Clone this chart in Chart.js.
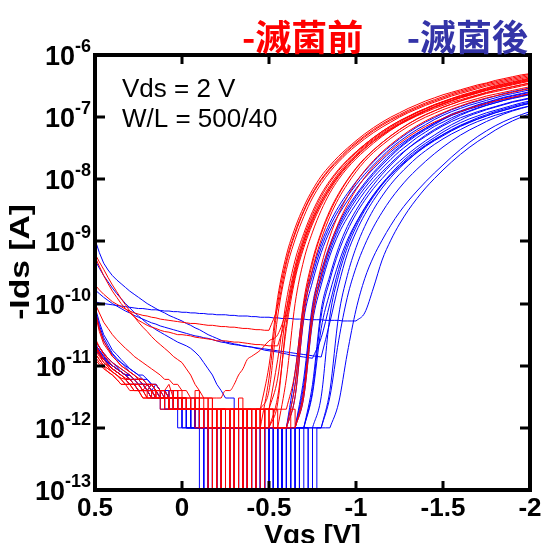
<!DOCTYPE html>
<html>
<head>
<meta charset="utf-8">
<script src="https://cdn.jsdelivr.net/npm/chart.js@4/dist/chart.umd.min.js"></script>
<style>
	html, body { margin: 0; padding: 0; background: #fff; }
	#wrap { width: 542px; height: 543px; position: relative; }
</style>
</head>
<body>
<div id="wrap"><canvas id="chart1"></canvas></div>
<script>
// Vgs sweep [V]: fine steps up to -1 V (off / subthreshold), coarse for the whole sweep
var vgsFine = [0.5,0.475,0.45,0.425,0.4,0.375,0.35,0.325,0.3,0.275,0.25,0.225,0.2,0.175,0.15,0.125,0.1,0.075,0.05,0.025,0,-0.025,-0.05,-0.075,-0.1,-0.125,-0.15,-0.175,-0.2,-0.225,-0.25,-0.275,-0.3,-0.325,-0.35,-0.375,-0.4,-0.425,-0.45,-0.475,-0.5,-0.525,-0.55,-0.575,-0.6,-0.625,-0.65,-0.675,-0.7,-0.725,-0.75,-0.775,-0.8,-0.825,-0.85,-0.875,-0.9,-0.925,-0.95,-0.975,-1];
var vgs = [0.5,0.45,0.4,0.35,0.3,0.25,0.2,0.15,0.1,0.05,0,-0.05,-0.1,-0.15,-0.2,-0.25,-0.3,-0.35,-0.4,-0.45,-0.5,-0.55,-0.6,-0.65,-0.7,-0.75,-0.8,-0.85,-0.9,-0.95,-1,-1.05,-1.1,-1.15,-1.2,-1.25,-1.3,-1.35,-1.4,-1.45,-1.5,-1.55,-1.6,-1.65,-1.7,-1.75,-1.8,-1.85,-1.9,-1.95,-2];

// log10(-Ids [A]) before sterilization (滅菌前)
// *Off: from Vgs = 0.5 on vgsFine, *On: up to Vgs = -2 on vgs (first point = last off point)
var r1Off = [-10.15,-10.45,-10.65,-10.75,-10.85,-10.92,-11,-11.05,-11.1,-11.15, -11.2,-11.22,-11.3,-11.3,-11.3,-11.4,-11.4,-11.3,-11.52,-11.4, -11.52,-11.7,-11.7,-11.52,-11.7,-11.7,-12,-11.7,-11.7,-14, -11.7,-12,-14,-11.7,-12,-11.7,-14,-12,-12];
var r1On = [-12,-11.2,-10,-9.3,-8.85,-8.5,-8.22,-8,-7.82,-7.67,-7.53,-7.41,-7.3,-7.2,-7.11,-7.03,-6.96,-6.89,-6.83,-6.77,-6.72,-6.67,-6.62,-6.58,-6.54,-6.5,-6.46,-6.43,-6.4,-6.37,-6.34,-6.31];
var r2Off = [-10.7,-10.8,-10.9,-10.98,-11.05,-11.1,-11.15,-11.22,-11.22,-11.3, -11.3,-11.4,-11.3,-11.4,-11.52,-11.4,-11.52,-11.52,-11.7,-11.52, -11.7,-11.52,-11.7,-11.7,-12,-11.7,-11.7,-12,-14,-11.7, -12,-11.7,-14,-14,-11.7,-12,-12,-11.7,-11.7];
var r2On = [-11.7,-11.4,-10.2,-9.45,-8.97,-8.6,-8.3,-8.07,-7.88,-7.72,-7.58,-7.46,-7.35,-7.25,-7.16,-7.08,-7,-6.93,-6.87,-6.81,-6.76,-6.71,-6.66,-6.62,-6.58,-6.54,-6.5,-6.47,-6.44,-6.41,-6.38,-6.35];
var r3Off = [-10.6,-10.7,-10.8,-10.88,-10.95,-11,-11.05,-11.1,-11.15,-11.22, -11.22,-11.3,-11.3,-11.3,-11.4,-11.4,-11.4,-11.52,-11.4,-11.52, -11.52,-11.7,-11.52,-11.7,-11.7,-11.7,-11.7,-12,-11.7,-11.7, -12,-14,-11.7,-11.7,-11.7,-12,-11.7,-11.7,-11.7];
var r3On = [-11.7,-11,-9.9,-9.22,-8.78,-8.44,-8.17,-7.95,-7.78,-7.63,-7.5,-7.38,-7.27,-7.17,-7.08,-7,-6.93,-6.86,-6.8,-6.74,-6.69,-6.64,-6.6,-6.56,-6.52,-6.48,-6.45,-6.41,-6.38,-6.35,-6.32,-6.3];
var r4Off = [-10.8,-10.9,-11,-11.05,-11.1,-11.15,-11.2,-11.22,-11.3,-11.3, -11.4,-11.4,-11.4,-11.52,-11.4,-11.52,-11.52,-11.7,-11.52,-11.7, -11.7,-11.7,-11.7,-11.7,-11.7,-12,-14,-11.7,-11.7,-12, -11.7,-12,-12,-14,-11.7,-14,-11.7,-12,-12,-11.7, -12];
var r4On = [-12,-11.5,-10.4,-9.6,-9.1,-8.72,-8.42,-8.17,-7.96,-7.79,-7.64,-7.51,-7.39,-7.29,-7.19,-7.11,-7.03,-6.96,-6.9,-6.84,-6.79,-6.74,-6.69,-6.65,-6.61,-6.57,-6.53,-6.5,-6.47,-6.44,-6.41];
var r5Off = [-10.1,-10.4,-10.6,-10.72,-10.85,-10.92,-11,-11.05,-11.1,-11.15, -11.22,-11.22,-11.3,-11.3,-11.4,-11.4,-11.4,-11.52,-11.4,-11.52, -11.52,-11.7,-11.7,-11.52,-11.7,-11.7,-11.7,-12,-11.7,-11.7, -14,-11.7,-12,-11.7,-11.7,-11.7,-12,-11.7,-12,-11.7, -11.7];
var r5On = [-11.7,-11.2,-10.1,-9.4,-8.93,-8.57,-8.28,-8.05,-7.86,-7.7,-7.56,-7.44,-7.33,-7.23,-7.14,-7.06,-6.99,-6.92,-6.86,-6.8,-6.75,-6.7,-6.66,-6.62,-6.58,-6.54,-6.5,-6.47,-6.44,-6.41,-6.38];
var r6Off = [-10.75,-10.85,-10.95,-11.02,-11.1,-11.15,-11.22,-11.3,-11.3,-11.3, -11.4,-11.4,-11.52,-11.4,-11.52,-11.52,-11.52,-11.7,-11.52,-11.7, -11.7,-11.7,-11.7,-12,-11.7,-11.7,-12,-11.7,-14,-11.7, -12,-11.7,-11.7,-12,-12,-14,-14,-12,-11.7,-12, -12];
var r6On = [-12,-11.6,-10.3,-9.55,-9.05,-8.68,-8.38,-8.14,-7.94,-7.77,-7.62,-7.5,-7.39,-7.29,-7.2,-7.12,-7.05,-6.98,-6.92,-6.86,-6.81,-6.76,-6.72,-6.68,-6.64,-6.6,-6.57,-6.54,-6.51,-6.48,-6.45];
var r7Off = [-10.65,-10.78,-10.9,-10.98,-11.05,-11.1,-11.15,-11.2,-11.22,-11.3, -11.3,-11.4,-11.4,-11.4,-11.4,-11.52,-11.52,-11.52,-11.52,-11.7, -11.52,-11.7,-11.7,-11.7,-11.7,-11.7,-11.52,-11.7,-12,-11.7, -11.7,-11.7,-14,-11.7,-12,-11.7,-14,-11.7,-11.7,-12, -11.7,-11.7,-12,-12,-12];
var r7On = [-12,-11.3,-10.05,-9.35,-8.88,-8.53,-8.25,-8.02,-7.83,-7.67,-7.53,-7.41,-7.3,-7.2,-7.11,-7.03,-6.96,-6.9,-6.84,-6.79,-6.74,-6.7,-6.66,-6.62,-6.59,-6.56,-6.53,-6.5,-6.47];
var r8Off = [-10.8,-10.9,-11,-11.05,-11.1,-11.15,-11.22,-11.3,-11.3,-11.4, -11.4,-11.4,-11.52,-11.4,-11.52,-11.52,-11.7,-11.52,-11.7,-11.52, -11.7,-11.7,-11.7,-11.7,-12,-11.7,-11.7,-11.7,-12,-11.7, -14,-11.7,-11.7,-12,-11.7,-12,-11.7,-11.7,-12,-11.7, -11.7,-12,-12,-12,-12,-11.7,-12];
var r8On = [-12,-11.4,-10.1,-9.4,-8.92,-8.56,-8.28,-8.05,-7.86,-7.7,-7.56,-7.44,-7.33,-7.23,-7.14,-7.06,-6.99,-6.93,-6.87,-6.82,-6.77,-6.73,-6.69,-6.66,-6.63,-6.6,-6.57,-6.54];
var r9Off = [-10.9,-10.98,-11.05,-11.1,-11.15,-11.22,-11.3,-11.3,-11.3,-11.4, -11.4,-11.52,-11.52,-11.52,-11.52,-11.52,-11.52,-11.7,-11.7,-11.7, -11.7,-11.7,-11.7,-11.7,-11.7,-11.7,-14,-11.7,-11.7,-11.7, -11.7,-11.7,-11.7,-11.7,-14,-11.7,-11.7,-11.7,-12,-11.7, -11.7,-12,-12,-12,-12,-12,-12];
var r9On = [-12,-11.5,-10.25,-9.55,-9.07,-8.7,-8.41,-8.17,-7.97,-7.8,-7.66,-7.53,-7.42,-7.32,-7.23,-7.15,-7.08,-7.02,-6.96,-6.91,-6.86,-6.82,-6.78,-6.74,-6.71,-6.68,-6.65,-6.62];
var r10Off = [-10.7,-10.82,-10.95,-11,-11.05,-11.1,-11.15,-11.22,-11.3,-11.3, -11.3,-11.4,-11.4,-11.4,-11.52,-11.52,-11.52,-11.52,-11.7,-11.52, -11.7,-11.7,-11.7,-11.7,-11.52,-11.7,-12,-11.7,-11.7,-11.7, -12,-11.7,-11.7,-11.7,-14,-11.7,-12,-11.7,-11.7,-11.7, -11.7,-12,-12,-12,-12];
var r10On = [-12,-11.5,-10.2,-9.45,-8.97,-8.6,-8.31,-8.08,-7.88,-7.71,-7.57,-7.45,-7.34,-7.24,-7.15,-7.07,-7,-6.94,-6.88,-6.83,-6.78,-6.74,-6.7,-6.66,-6.63,-6.6,-6.57,-6.54,-6.51];
var r11Off = [-10.85,-10.95,-11.02,-11.1,-11.15,-11.22,-11.3,-11.3,-11.4,-11.4, -11.4,-11.52,-11.4,-11.52,-11.52,-11.7,-11.52,-11.7,-11.7,-11.7, -11.52,-11.7,-11.7,-11.7,-11.7,-11.7,-11.7,-14,-11.7,-11.7, -14,-11.7,-11.7,-14,-11.7,-11.7,-11.7,-12,-11.7,-11.7, -11.7];
var r11On = [-11.7,-10.9,-9.95,-9.3,-8.87,-8.52,-8.24,-8.02,-7.84,-7.69,-7.56,-7.44,-7.33,-7.23,-7.14,-7.06,-6.99,-6.92,-6.86,-6.8,-6.75,-6.7,-6.65,-6.61,-6.57,-6.53,-6.49,-6.46,-6.43,-6.4,-6.37];
var r12Off = [-10.55,-10.7,-10.82,-10.92,-11,-11.05,-11.1,-11.15,-11.22,-11.22, -11.3,-11.3,-11.4,-11.3,-11.4,-11.4,-11.52,-11.4,-11.52,-11.52, -11.52,-11.52,-11.7,-11.52,-11.7,-11.7,-11.7,-11.7,-11.7,-14, -11.7,-11.7,-11.7,-11.52,-11.7,-11.7,-11.7,-11.7,-14,-11.7, -11.7,-11.7,-11.7,-11.7,-11.7];
var r12On = [-11.7,-11.1,-9.95,-9.3,-8.85,-8.5,-8.23,-8.01,-7.82,-7.66,-7.53,-7.41,-7.3,-7.2,-7.11,-7.03,-6.96,-6.9,-6.84,-6.79,-6.74,-6.69,-6.65,-6.61,-6.57,-6.54,-6.51,-6.48,-6.45];
var rh1Off = [-9.25,-9.4,-9.55,-9.68,-9.8,-9.9,-10,-10.08,-10.15,-10.21, -10.27,-10.31,-10.35,-10.38,-10.4,-10.43,-10.45,-10.46,-10.48,-10.5, -10.5,-10.51,-10.52,-10.54,-10.55,-10.56,-10.57,-10.58,-10.6,-10.6, -10.6,-10.61,-10.62,-10.62,-10.63,-10.64,-10.65,-10.66,-10.66,-10.67, -10.68,-10.68,-10.68];
var rh1On = [-10.68,-10.2,-9.5,-9,-8.65,-8.37,-8.13,-7.93,-7.76,-7.61,-7.48,-7.37,-7.27,-7.18,-7.1,-7.02,-6.95,-6.89,-6.83,-6.78,-6.73,-6.69,-6.65,-6.61,-6.57,-6.54,-6.51,-6.48,-6.45,-6.42];
var rh2Off = [-9.7,-9.78,-9.85,-9.91,-9.97,-10.01,-10.05,-10.09,-10.12,-10.15, -10.17,-10.19,-10.2,-10.22,-10.23,-10.25,-10.26,-10.27,-10.28,-10.29, -10.3,-10.31,-10.32,-10.32,-10.33,-10.34,-10.35,-10.35,-10.36,-10.37, -10.37,-10.38,-10.38,-10.39,-10.4,-10.4,-10.41,-10.42,-10.42,-10.43, -10.43];
var rh2On = [-10.43,-10.05,-9.35,-8.88,-8.52,-8.24,-8.02,-7.84,-7.69,-7.55,-7.43,-7.32,-7.22,-7.13,-7.05,-6.98,-6.91,-6.85,-6.79,-6.74,-6.69,-6.64,-6.6,-6.56,-6.52,-6.48,-6.45,-6.42,-6.39,-6.36,-6.33];
var rh3Off = [-9.2,-9.33,-9.45,-9.58,-9.7,-9.81,-9.92,-10.02,-10.12,-10.21, -10.3,-10.38,-10.45,-10.53,-10.6,-10.66,-10.72,-10.78,-10.85,-10.9, -10.95,-11.05,-11.15,-11.3,-11.4,-11.52,-11.52,-11.7,-11.7,-11.7, -11.7,-14,-11.7,-11.7,-11.7,-11.7,-11.7,-11.7,-12,-11.7, -12,-12,-12];
var rh3On = [-12,-11.2,-10,-9.3,-8.85,-8.5,-8.22,-8,-7.82,-7.67,-7.54,-7.42,-7.31,-7.21,-7.12,-7.04,-6.97,-6.9,-6.84,-6.78,-6.73,-6.68,-6.64,-6.6,-6.56,-6.52,-6.49,-6.46,-6.43,-6.4];
var rh4Off = [-10,-10.15,-10.3,-10.4,-10.5,-10.58,-10.65,-10.72,-10.78,-10.85, -10.9,-10.95,-11,-11.05,-11.1,-11.15,-11.22,-11.22,-11.3,-11.3, -11.4,-11.4,-11.52,-11.4,-11.52,-11.52,-11.7,-11.52,-11.52,-11.52, -11.4,-11.4,-11.3,-11.15,-11.05,-10.9,-10.85];
var rh4On = [-10.85,-10.75,-10.6,-10.5,-10.1,-9.45,-8.98,-8.62,-8.33,-8.1,-7.9,-7.73,-7.58,-7.46,-7.35,-7.25,-7.16,-7.08,-7,-6.93,-6.87,-6.81,-6.76,-6.71,-6.67,-6.63,-6.59,-6.55,-6.51,-6.48,-6.45,-6.42,-6.39];

// log10(-Ids [A]) after sterilization (滅菌後)
var b1Off = [-10.6,-10.7,-10.8,-10.88,-10.95,-11,-11.05,-11.1,-11.15,-11.22, -11.22,-11.3,-11.3,-11.4,-11.3,-11.4,-11.4,-11.52,-11.4,-11.52, -11.52,-11.7,-11.52,-11.7,-12,-11.7,-12,-12,-14,-12, -12,-12,-14,-12,-12,-14,-12,-12,-12,-14, -12,-12,-14,-12,-12];
var b1On = [-12,-11.3,-10.1,-9.55,-9.1,-8.76,-8.5,-8.28,-8.09,-7.92,-7.77,-7.63,-7.5,-7.39,-7.29,-7.2,-7.12,-7.04,-6.97,-6.91,-6.86,-6.81,-6.77,-6.73,-6.69,-6.65,-6.62,-6.59,-6.56];
var b2Off = [-10.1,-10.35,-10.55,-10.68,-10.8,-10.88,-10.95,-11,-11.05,-11.1, -11.15,-11.22,-11.22,-11.3,-11.3,-11.4,-11.4,-11.52,-11.52,-11.7, -11.52,-11.7,-11.7,-12,-11.7,-12,-12,-12,-12,-14, -12,-12,-12,-14,-12,-12,-12,-12,-14,-12, -12,-14,-12,-12,-12];
var b2On = [-12,-11.1,-10,-9.47,-9.03,-8.7,-8.44,-8.23,-8.04,-7.87,-7.72,-7.58,-7.46,-7.35,-7.25,-7.16,-7.08,-7.01,-6.94,-6.88,-6.83,-6.78,-6.74,-6.7,-6.66,-6.62,-6.59,-6.56,-6.53];
var b3Off = [-10.7,-10.8,-10.9,-10.95,-11,-11.05,-11.1,-11.15,-11.22,-11.3, -11.3,-11.3,-11.4,-11.4,-11.52,-11.4,-11.52,-11.52,-11.7,-11.7, -11.7,-12,-11.7,-12,-12,-12,-14,-12,-12,-12, -14,-12,-12,-12,-14,-12,-12,-12,-12,-12, -14,-12,-12,-12,-12];
var b3On = [-12,-11.5,-10.25,-9.65,-9.18,-8.83,-8.57,-8.35,-8.15,-7.98,-7.83,-7.69,-7.56,-7.45,-7.35,-7.26,-7.18,-7.1,-7.03,-6.97,-6.92,-6.87,-6.83,-6.79,-6.75,-6.71,-6.68,-6.65,-6.62];
var b4Off = [-10.65,-10.75,-10.85,-10.92,-11,-11.05,-11.1,-11.15,-11.15,-11.22, -11.22,-11.3,-11.3,-11.4,-11.4,-11.52,-11.52,-11.52,-11.7,-11.52, -11.7,-11.7,-12,-11.7,-12,-12,-12,-14,-12,-12, -12,-12,-14,-12,-12,-12,-14,-12,-12,-14, -12,-12,-12,-14,-12,-12,-12];
var b4On = [-12,-11.3,-10.1,-9.55,-9.1,-8.76,-8.5,-8.28,-8.09,-7.92,-7.77,-7.63,-7.5,-7.39,-7.29,-7.2,-7.12,-7.04,-6.97,-6.91,-6.86,-6.81,-6.77,-6.73,-6.69,-6.66,-6.63,-6.6];
var b5Off = [-10.05,-10.3,-10.5,-10.62,-10.75,-10.82,-10.9,-10.97,-11.05,-11.1, -11.15,-11.15,-11.22,-11.3,-11.3,-11.4,-11.4,-11.52,-11.52,-11.52, -11.7,-11.7,-11.7,-12,-11.7,-12,-12,-12,-12,-12, -14,-12,-12,-12,-12,-14,-12,-12,-12,-12, -14,-12,-12,-14,-12,-12,-12];
var b5On = [-12,-11.2,-10.02,-9.48,-9.05,-8.72,-8.46,-8.25,-8.06,-7.89,-7.74,-7.6,-7.48,-7.37,-7.27,-7.18,-7.1,-7.02,-6.95,-6.9,-6.85,-6.8,-6.76,-6.72,-6.68,-6.65,-6.62,-6.59];
var b6Off = [-10.75,-10.82,-10.9,-10.98,-11.05,-11.1,-11.15,-11.22,-11.3,-11.3, -11.4,-11.4,-11.4,-11.52,-11.52,-11.52,-11.7,-11.52,-11.7,-11.7, -11.7,-12,-12,-12,-14,-12,-12,-12,-12,-14, -12,-12,-12,-14,-12,-12,-12,-12,-14,-12, -12,-14,-12,-12,-12,-12,-12];
var b6On = [-12,-11.5,-10.3,-9.7,-9.23,-8.88,-8.62,-8.4,-8.2,-8.03,-7.88,-7.74,-7.61,-7.5,-7.4,-7.31,-7.22,-7.14,-7.07,-7.01,-6.96,-6.91,-6.87,-6.83,-6.79,-6.75,-6.72,-6.69];
var b7Off = [-10.6,-10.7,-10.8,-10.88,-10.95,-11.02,-11.1,-11.15,-11.15,-11.22, -11.22,-11.3,-11.3,-11.4,-11.4,-11.52,-11.4,-11.52,-11.52,-11.7, -11.7,-11.7,-12,-11.7,-12,-12,-12,-12,-14,-12, -12,-12,-12,-12,-14,-12,-12,-12,-12,-12, -12,-14,-12,-12,-12,-14,-12,-12,-12];
var b7On = [-12,-11.4,-10.2,-9.62,-9.17,-8.83,-8.56,-8.34,-8.15,-7.99,-7.84,-7.71,-7.59,-7.48,-7.38,-7.29,-7.2,-7.12,-7.05,-6.98,-6.93,-6.88,-6.84,-6.8,-6.76,-6.73,-6.7];
var b8Off = [-10.7,-10.8,-10.9,-10.95,-11,-11.05,-11.1,-11.15,-11.22,-11.3, -11.3,-11.3,-11.4,-11.4,-11.52,-11.52,-11.52,-11.7,-11.7,-11.7, -11.7,-12,-12,-12,-12,-12,-14,-12,-12,-12, -14,-12,-12,-12,-12,-12,-14,-12,-12,-12, -12,-12,-14,-12,-12,-12,-12,-14,-12,-12, -12];
var b8On = [-12,-11.5,-10.2,-9.55,-9.1,-8.77,-8.5,-8.28,-8.09,-7.93,-7.79,-7.66,-7.55,-7.45,-7.36,-7.28,-7.21,-7.14,-7.08,-7.03,-6.98,-6.93,-6.89,-6.85,-6.81,-6.78];
var b9Off = [-10.65,-10.75,-10.85,-10.92,-11,-11.05,-11.1,-11.15,-11.15,-11.22, -11.3,-11.3,-11.4,-11.4,-11.52,-11.52,-11.7,-11.52,-11.7,-11.7, -12,-11.7,-12,-12,-12,-14,-12,-12,-12,-12, -12,-14,-12,-12,-12,-12,-12,-14,-12,-12, -12,-14,-12,-12,-12,-12,-14,-12,-12,-12, -14,-12,-12];
var b9On = [-12,-11.4,-10.2,-9.55,-9.1,-8.76,-8.49,-8.27,-8.08,-7.92,-7.78,-7.65,-7.54,-7.44,-7.35,-7.27,-7.2,-7.13,-7.07,-7.02,-6.97,-6.93,-6.89,-6.85,-6.82];
var b10Off = [-10.7,-10.8,-10.9,-10.98,-11.05,-11.1,-11.15,-11.22,-11.3,-11.3, -11.4,-11.4,-11.4,-11.52,-11.52,-11.7,-11.52,-11.7,-11.7,-12, -11.7,-12,-12,-12,-12,-14,-12,-12,-12,-12, -12,-12,-14,-12,-12,-12,-12,-12,-14,-12, -12,-12,-12,-14,-12,-12,-12,-12,-12,-14, -12,-12,-12,-12,-12];
var b10On = [-12,-11.6,-10.8,-10.1,-9.6,-9.25,-8.98,-8.74,-8.53,-8.35,-8.19,-8.04,-7.9,-7.77,-7.64,-7.52,-7.41,-7.31,-7.22,-7.14,-7.07,-7.01,-6.96,-6.91];
var b11Off = [-10.72,-10.82,-10.9,-10.97,-11.05,-11.1,-11.15,-11.22,-11.22,-11.3, -11.3,-11.4,-11.4,-11.52,-11.52,-11.52,-11.7,-11.7,-11.7,-11.7, -12,-12,-11.7,-12,-12,-12,-12,-14,-12,-12, -12,-12,-12,-14,-12,-12,-12,-12,-12,-14, -12,-12,-12,-12,-14,-12,-12,-12,-12,-14, -12,-12,-12];
var b11On = [-12,-11.5,-10.6,-9.9,-9.42,-9.06,-8.77,-8.53,-8.32,-8.14,-7.98,-7.84,-7.71,-7.59,-7.48,-7.38,-7.29,-7.21,-7.14,-7.07,-7.01,-6.95,-6.9,-6.86,-6.82];
var b12Off = [-10.1,-10.4,-10.6,-10.72,-10.82,-10.9,-10.95,-11.02,-11.1,-11.15, -11.22,-11.22,-11.3,-11.3,-11.4,-11.4,-11.52,-11.4,-11.52,-11.7, -11.7,-11.7,-11.7,-12,-12,-14,-12,-12,-12,-12, -12,-14,-12,-12,-14,-12,-12,-12,-12,-12, -14,-12,-12,-12,-12,-14,-12];
var b12On = [-12,-11.4,-10.18,-9.62,-9.16,-8.81,-8.55,-8.33,-8.14,-7.97,-7.82,-7.68,-7.55,-7.44,-7.33,-7.24,-7.15,-7.08,-7.01,-6.95,-6.9,-6.85,-6.81,-6.77,-6.73,-6.7,-6.67,-6.64];
var b13Off = [-10.68,-10.78,-10.87,-10.95,-11,-11.05,-11.1,-11.15,-11.22,-11.22, -11.3,-11.3,-11.4,-11.3,-11.4,-11.52,-11.52,-11.52,-11.7,-11.52, -11.7,-11.7,-11.7,-12,-11.7,-12,-12,-14,-12,-12, -12,-12,-12,-14,-12,-12,-14,-12,-12,-12, -12,-12,-12,-14,-12,-12,-12,-12,-12];
var b13On = [-12,-11.45,-10.4,-9.82,-9.35,-8.98,-8.7,-8.46,-8.25,-8.07,-7.91,-7.76,-7.63,-7.52,-7.42,-7.33,-7.24,-7.16,-7.09,-7.03,-6.98,-6.93,-6.89,-6.85,-6.81,-6.77,-6.74];
var bh1Off = [-8.97,-9.18,-9.35,-9.46,-9.55,-9.62,-9.68,-9.74,-9.8,-9.85, -9.9,-9.95,-10,-10.04,-10.08,-10.12,-10.15,-10.19,-10.22,-10.25, -10.28,-10.32,-10.35,-10.39,-10.42,-10.46,-10.5,-10.53,-10.56,-10.59, -10.62,-10.63,-10.65,-10.66,-10.68,-10.69,-10.7,-10.71,-10.72,-10.73, -10.74,-10.75,-10.76,-10.77,-10.78,-10.79,-10.8,-10.81,-10.82,-10.83, -10.84,-10.85,-10.86];
var bh1On = [-10.86,-10.3,-9.7,-9.2,-8.85,-8.57,-8.34,-8.14,-7.97,-7.82,-7.69,-7.57,-7.46,-7.37,-7.28,-7.2,-7.13,-7.07,-7.01,-6.96,-6.91,-6.87,-6.83,-6.79,-6.76];
var bh2Off = [-9.97,-9.99,-10,-10.01,-10.02,-10.03,-10.04,-10.05,-10.06,-10.07, -10.08,-10.08,-10.09,-10.1,-10.1,-10.11,-10.12,-10.12,-10.13,-10.13, -10.14,-10.14,-10.15,-10.15,-10.16,-10.16,-10.17,-10.17,-10.18,-10.18, -10.18,-10.19,-10.19,-10.2,-10.2,-10.2,-10.21,-10.21,-10.22,-10.22, -10.22,-10.23,-10.23,-10.24,-10.24,-10.24,-10.25,-10.25,-10.25,-10.26, -10.26,-10.26,-10.26,-10.27,-10.27,-10.27,-10.27,-10.28,-10.28,-10.28, -10.28];
var bh2On = [-10.28,-10.15,-9.75,-9.3,-8.98,-8.72,-8.5,-8.31,-8.14,-7.99,-7.85,-7.72,-7.6,-7.49,-7.39,-7.3,-7.21,-7.13,-7.06,-7,-6.94];
var bh3Off = [-9.3,-9.43,-9.55,-9.65,-9.75,-9.84,-9.92,-10,-10.07,-10.14, -10.2,-10.26,-10.32,-10.37,-10.42,-10.46,-10.5,-10.54,-10.58,-10.62, -10.65,-10.68,-10.72,-10.78,-10.85,-10.95,-11.05,-11.15,-11.3,-11.4, -11.52,-11.52,-11.7,-11.7,-12,-11.7,-12,-12,-14,-12, -12,-12,-14,-12,-12,-12,-14,-12,-12];
var bh3On = [-12,-11.3,-10.1,-9.55,-9.1,-8.76,-8.5,-8.28,-8.09,-7.92,-7.77,-7.63,-7.5,-7.39,-7.29,-7.2,-7.12,-7.04,-6.97,-6.91,-6.86,-6.81,-6.77,-6.73,-6.69,-6.66,-6.63];
var bh4Off = [-9.78,-9.84,-9.9,-9.95,-10,-10.04,-10.08,-10.12,-10.15,-10.19, -10.22,-10.25,-10.28,-10.31,-10.33,-10.36,-10.38,-10.4,-10.42,-10.44, -10.46,-10.48,-10.5,-10.52,-10.53,-10.55,-10.56,-10.58,-10.6,-10.62, -10.63,-10.65,-10.66,-10.67,-10.68,-10.69,-10.7,-10.72,-10.73,-10.75, -10.76,-10.77,-10.78,-10.8,-10.81,-10.83,-10.84,-10.85,-10.86,-10.87, -10.88];
var bh4On = [-10.88,-10.55,-10,-9.45,-9.03,-8.72,-8.47,-8.26,-8.08,-7.93,-7.8,-7.68,-7.57,-7.47,-7.38,-7.3,-7.22,-7.15,-7.09,-7.03,-6.98,-6.93,-6.89,-6.85,-6.81,-6.77];

var redCurves = [[r1Off, r1On], [r2Off, r2On], [r3Off, r3On], [r4Off, r4On], [r5Off, r5On], [r6Off, r6On], [r7Off, r7On], [r8Off, r8On], [r9Off, r9On], [r10Off, r10On], [r11Off, r11On], [r12Off, r12On], [rh1Off, rh1On], [rh2Off, rh2On], [rh3Off, rh3On], [rh4Off, rh4On]];
var blueCurves = [[b1Off, b1On], [b2Off, b2On], [b3Off, b3On], [b4Off, b4On], [b5Off, b5On], [b6Off, b6On], [b7Off, b7On], [b8Off, b8On], [b9Off, b9On], [b10Off, b10On], [b11Off, b11On], [b12Off, b12On], [b13Off, b13On], [bh1Off, bh1On], [bh2Off, bh2On], [bh3Off, bh3On], [bh4Off, bh4On]];

// axis ticks
var xTickValues = [0.5, 0, -0.5, -1, -1.5, -2];
var xTickLabels = ['0.5', '0', '-0.5', '-1', '-1.5', '-2'];
var yTickExps = [-6, -7, -8, -9, -10, -11, -12, -13];

var RED = '#ff0000';
var BLUE = '#0000ff';
var FONT = '"Liberation Sans", Arial, sans-serif';

// leakage (plain line), noise floor between the first and last <= 3 pA reading (stepped), rest (smooth)
function curveParts(off, on) {
	var f = -1, l = -1;
	off.forEach(function(v, j) { if (v <= -11.5) { if (f < 0) f = j; l = j; } });
	if (f < 0) { f = off.length - 1; l = f; }
	var offPts = off.map(function(v, j) { return { x: vgsFine[j], y: Math.pow(10, v) }; });
	var s = vgs.length - on.length;
	var onPts = on.map(function(v, i) { return { x: vgs[s + i], y: Math.pow(10, v) }; });
	return {
		leak: offPts.slice(0, f + 1),
		floor: offPts.slice(f, l + 1),
		rise: offPts.slice(l).concat(onPts.slice(1))
	};
}

function buildDatasets(curves, color) {
	var out = [];
	curves.forEach(function(c) {
		var p = curveParts(c[0], c[1]);
		var base = { borderColor: color, backgroundColor: color, borderWidth: 1, pointRadius: 0, fill: false };
		out.push(Object.assign({ data: p.leak }, base));
		out.push(Object.assign({ data: p.floor, stepped: true }, base));
		out.push(Object.assign({ data: p.rise, cubicInterpolationMode: 'monotone' }, base));
	});
	return out;
}

var decorPlugin = {
	id: 'decor',
	afterDraw: function(chart) {
		var ctx = chart.ctx, a = chart.chartArea;
		var xs = chart.scales.x, ys = chart.scales.y;
		ctx.save();
		ctx.fillStyle = '#000';
		ctx.strokeStyle = '#000';

		// ticks (inward, all four sides)
		ctx.lineWidth = 3;
		ctx.beginPath();
		xTickValues.forEach(function(v) {
			var px = Math.round(xs.getPixelForValue(v));
			if (px <= a.left + 2 || px >= a.right - 2) return;
			ctx.moveTo(px, a.bottom); ctx.lineTo(px, a.bottom - 9);
			ctx.moveTo(px, a.top); ctx.lineTo(px, a.top + 9);
		});
		yTickExps.forEach(function(e) {
			var py = Math.round(ys.getPixelForValue(Math.pow(10, e)));
			if (py <= a.top + 2 || py >= a.bottom - 2) return;
			ctx.moveTo(a.left, py); ctx.lineTo(a.left + 10, py);
			ctx.moveTo(a.right, py); ctx.lineTo(a.right - 10, py);
		});
		ctx.stroke();

		// frame
		ctx.lineWidth = 4;
		ctx.strokeRect(a.left, a.top, a.right - a.left, a.bottom - a.top);

		// x tick labels
		ctx.font = 'bold 26px ' + FONT;
		ctx.textAlign = 'center';
		ctx.textBaseline = 'alphabetic';
		xTickValues.forEach(function(v, i) {
			ctx.fillText(xTickLabels[i], xs.getPixelForValue(v), 516);
		});

		// y tick labels 10^n
		ctx.textAlign = 'right';
		yTickExps.forEach(function(e) {
			var py = ys.getPixelForValue(Math.pow(10, e));
			var sup = String(e);
			ctx.font = 'bold 18px ' + FONT;
			var w = ctx.measureText(sup).width;
			ctx.fillText(sup, 91, py - 3);
			ctx.font = 'bold 27px ' + FONT;
			ctx.fillText('10', 91 - w, py + 10);
		});

		// axis titles
		ctx.font = 'bold 28px ' + FONT;
		ctx.textAlign = 'center';
		ctx.fillText('Vgs [V]', (a.left + a.right) / 2, 544);
		ctx.save();
		ctx.translate(21, 262);
		ctx.rotate(-Math.PI / 2);
		ctx.scale(1.2, 1);
		ctx.textBaseline = 'middle';
		ctx.fillText('-Ids [A]', 0, 0);
		ctx.restore();

		// conditions
		ctx.font = '26px ' + FONT;
		ctx.textAlign = 'left';
		ctx.fillText('Vds = 2 V', 122, 97);
		ctx.fillText('W/L = 500/40', 122, 127);

		// legend
		ctx.font = 'bold 36px "Noto Sans CJK JP", sans-serif';
		ctx.fillStyle = RED;
		ctx.fillText('-滅菌前', 242, 51);
		ctx.fillStyle = '#3434a8';
		ctx.textAlign = 'right';
		ctx.fillText('-滅菌後', 528, 51);
		ctx.restore();
	}
};

var chart1 = new Chart(document.getElementById('chart1').getContext('2d'), {
	type: 'line',
	data: {
		datasets: buildDatasets(redCurves, RED).concat(buildDatasets(blueCurves, BLUE))
	},
	options: {
		responsive: true,
		maintainAspectRatio: false,
		animation: false,
		events: [],
		layout: { padding: { left: 95, right: 12, top: 55, bottom: 53 } },
		plugins: { legend: { display: false }, tooltip: { enabled: false } },
		scales: {
			x: { type: 'linear', min: -2, max: 0.5, reverse: true, display: false },
			y: { type: 'logarithmic', min: 1e-13, max: 1e-6, display: false }
		}
	},
	plugins: [decorPlugin]
});
</script>
</body>
</html>
